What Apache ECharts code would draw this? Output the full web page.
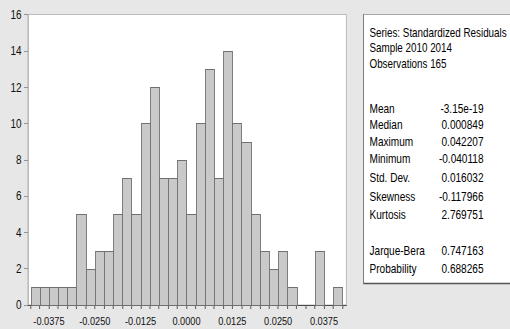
<!DOCTYPE html>
<html><head><meta charset="utf-8">
<script src="https://cdn.jsdelivr.net/npm/echarts@6/dist/echarts.min.js"></script>
<style>
html,body{margin:0;padding:0;background:#e7e7e7;width:510px;height:329px;overflow:hidden}
#c{width:637.5px;height:329px;transform:scaleX(0.8);transform-origin:0 0}
</style>
</head><body><div id="c"></div>
<script>
// Histogram bin edges (residual value) and counts per bin
const binEdges = [-0.0425,-0.0400,-0.0375,-0.0350,-0.0325,-0.0300,-0.0275,-0.0250,-0.0225,-0.0200,-0.0175,
  -0.0150,-0.0125,-0.0100,-0.0075,-0.0050,-0.0025,0.0000,0.0025,0.0050,0.0075,0.0100,0.0125,0.0150,0.0175,
  0.0200,0.0225,0.0250,0.0275,0.0300,0.0325,0.0350,0.0375,0.0400,0.0425];
const binCounts = [1,1,1,1,1,5,2,3,3,5,7,5,10,12,7,7,8,5,10,13,7,14,10,9,5,3,2,3,1,0,0,3,0,1];
const xTickLabels = [-0.0375,-0.0250,-0.0125,0.0000,0.0125,0.0250,0.0375];
const yTicks = [0,2,4,6,8,10,12,14,16];

// Statistics panel
const headerLines = ['Series: Standardized Residuals','Sample 2010 2014','Observations 165'];
const statLabels = ['Mean','Median','Maximum','Minimum','Std. Dev.','Skewness','Kurtosis','Jarque-Bera','Probability'];
const statValues = ['-3.15e-19','0.000849','0.042207','-0.040118','0.016032','-0.117966','2.769751','0.747163','0.688265'];

const SX = 0.8; // horizontal squeeze of the whole picture (applied with CSS)
const FONT = "'Liberation Sans',Arial,sans-serif";
const headerY = [32.5, 48, 63.5];
const statY = [108.5, 125, 141.5, 158.5, 178, 196.5, 214.5, 251, 268.5];

const data = binCounts.map((c,i)=>[binEdges[i], binEdges[i+1], c]);

const graphic = [
  {type:'rect', shape:{x:363.5/SX, y:14.5, width:200, height:269}, style:{fill:'#fff', stroke:'#a0a0a0', lineWidth:1}, z:1},
  {type:'line', shape:{x1:363/SX, y1:283.5, x2:660, y2:283.5}, style:{stroke:'#555', lineWidth:1.5}, z:2},
  {type:'line', shape:{x1:363.5/SX, y1:14, x2:363.5/SX, y2:284}, style:{stroke:'#7a7a7a', lineWidth:1.2}, z:2}
];
headerLines.forEach((t,i)=>graphic.push({type:'text', x:369.5/SX, y:headerY[i], z:3,
  style:{text:t, font:'12.3px '+FONT, fill:'#000', verticalAlign:'middle'}}));
statLabels.forEach((t,i)=>graphic.push({type:'text', x:369.5/SX, y:statY[i], z:3,
  style:{text:t, font:'12.6px '+FONT, fill:'#000', verticalAlign:'middle'}}));
statValues.forEach((t,i)=>graphic.push({type:'text', x:483.5/SX, y:statY[i], z:3,
  style:{text:t, font:'12.6px '+FONT, fill:'#000', align:'right', verticalAlign:'middle'}}));

const chart = echarts.init(document.getElementById('c'), null, {renderer:'svg'});
chart.setOption({
  animation:false,
  backgroundColor:'#e7e7e7',
  grid:{left:28/SX, right:164/SX, top:14.5, bottom:24, show:true, backgroundColor:'#fff', borderColor:'#b5b5b5', borderWidth:1},
  xAxis:{type:'value', min:-0.0432, max:0.0436,
    axisLine:{show:true, onZero:false, lineStyle:{color:'#3a3a3a', width:1}},
    axisTick:{show:true, length:4, customValues:binEdges, lineStyle:{color:'#555', width:1.2}},
    axisLabel:{customValues:xTickLabels, formatter:v=>v.toFixed(4), fontFamily:FONT, fontSize:11.5, color:'#111', margin:10},
    splitLine:{show:false}},
  yAxis:{type:'value', min:0, max:16, interval:2,
    axisLine:{show:true, onZero:false, lineStyle:{color:'#b0b0b0'}},
    axisTick:{show:true, length:5, lineStyle:{color:'#8a8a8a'}},
    axisLabel:{fontFamily:FONT, fontSize:12.5, color:'#111', margin:8},
    splitLine:{show:false}},
  series:[{type:'custom', data:data, encode:{x:[0,1], y:2},
    renderItem:function(params, api){
      const c = api.value(2);
      if (!(c > 0)) return null;
      const p0 = api.coord([api.value(0), 0]);
      const p1 = api.coord([api.value(1), c]);
      const snap = v => (Math.round(v*SX) + 0.5)/SX;
      const x0 = snap(p0[0]), x1 = snap(p1[0]);
      const yT = Math.round(p1[1]) + 0.5, yB = Math.round(p0[1]) + 0.5;
      return {type:'rect', shape:{x:x0, y:yT, width:x1-x0, height:yB-yT},
        style:{fill:'#c9c9c9', stroke:'#707070', lineWidth:1.1}};
    }}],
  graphic:graphic
});
</script></body></html>
